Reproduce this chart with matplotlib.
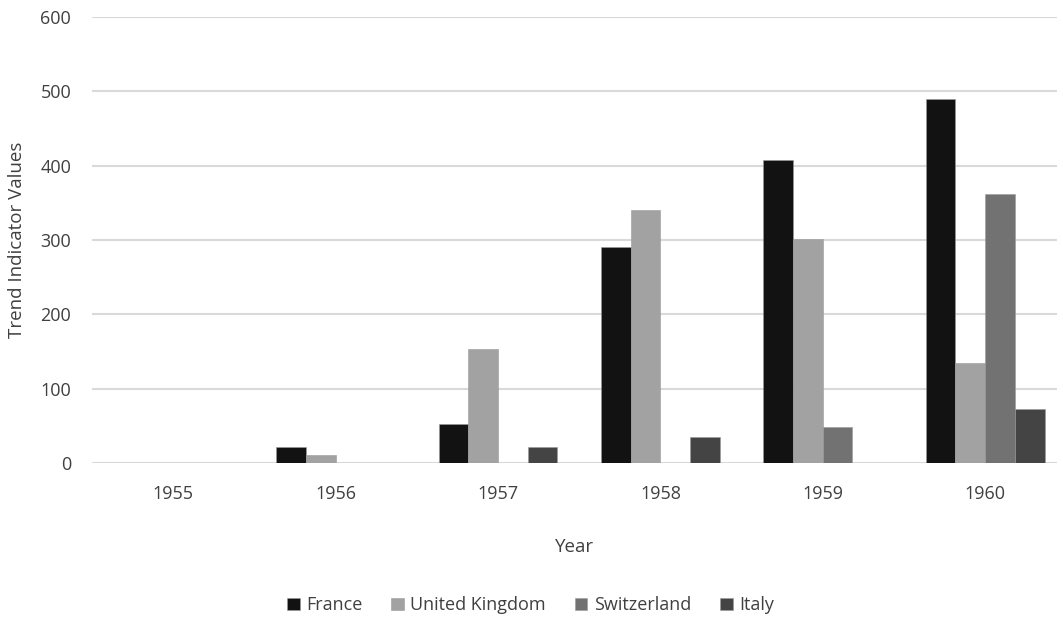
import numpy as np
import matplotlib.pyplot as plt

years = ["1955", "1956", "1957", "1958", "1959", "1960"]
france = [0, 22, 52, 291, 408, 489]
united_kingdom = [0, 11, 153, 341, 302, 135]
switzerland = [0, 0, 0, 0, 49, 362]
italy = [0, 0, 21, 35, 0, 73]

series = [
    ("France", france, "#121212"),
    ("United Kingdom", united_kingdom, "#a2a2a2"),
    ("Switzerland", switzerland, "#727272"),
    ("Italy", italy, "#444444"),
]

plt.rcParams["font.family"] = ["Open Sans", "DejaVu Sans"]
text_color = "#404040"

fig = plt.figure(figsize=(10.63, 6.24), dpi=100)
ax = fig.add_axes([0.0866, 0.258, 0.9078, 0.7148])

x = np.arange(len(years))
width = 0.183
offsets = (np.arange(len(series)) - (len(series) - 1) / 2) * width
for (name, vals, color), off in zip(series, offsets):
    ax.bar(x + off, vals, width, color=color, label=name, zorder=3,
           edgecolor="#9a9a9a", linewidth=0.4)

# the plot area runs slightly past the right edge of the canvas
ax.set_xlim(-0.5, len(years) - 0.557)
ax.set_ylim(0, 600)
ax.set_yticks(range(0, 601, 100))
ax.set_xticks(x)
ax.set_xticklabels(years)
ax.yaxis.grid(True, color="#d9d9d9", linewidth=1.5, zorder=0)
ax.set_axisbelow(True)
for s in ax.spines.values():
    s.set_visible(False)
ax.tick_params(axis="both", length=0, labelsize=13, colors=text_color)
ax.tick_params(axis="x", pad=16)
ax.tick_params(axis="y", pad=15)

ax.set_xlabel("Year", fontsize=13.5, color=text_color, labelpad=25)
ax.set_ylabel("Trend Indicator Values", fontsize=13.5, color=text_color, labelpad=10)

leg = fig.legend(loc="center", bbox_to_anchor=(0.499, 0.03), ncol=4, frameon=False,
                 fontsize=13, handlelength=0.7, handleheight=0.7,
                 handletextpad=0.35, columnspacing=1.6)
for t in leg.get_texts():
    t.set_color(text_color)

fig.savefig("out.png", dpi=100, facecolor="white")
